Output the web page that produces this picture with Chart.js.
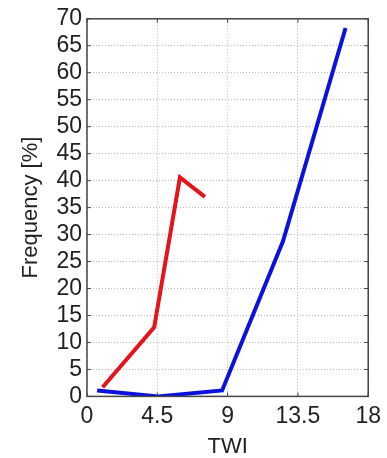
<!DOCTYPE html>
<html>
<head>
<meta charset="utf-8">
<script src="https://cdn.jsdelivr.net/npm/chart.js@4"></script>
<style>
  html, body { margin: 0; padding: 0; background: #fff; }
  #wrap { width: 387px; height: 458px; }
</style>
</head>
<body>
<div id="wrap"><canvas id="chart" width="387" height="458"></canvas></div>
<script>
const redX = [1.0, 4.3, 5.95, 7.55]
const redY = [1.7, 12.8, 40.6, 37.0]
const blueX = [0.65, 4.55, 8.65, 12.55, 16.55]
const blueY = [1.1, 0.0, 1.1, 28.8, 68.3]
const xTicks = [0, 4.5, 9, 13.5, 18]

const toPoints = (xs, ys) => xs.map((x, i) => ({ x, y: ys[i] }))

// frame + inward ticks like the matlab figure
const frame = {
  id: 'frame',
  afterDraw (chart) {
    const { ctx, chartArea: a, scales } = chart
    ctx.save()
    ctx.strokeStyle = '#444'
    ctx.lineWidth = 1.5
    ctx.strokeRect(a.left, a.top, a.right - a.left, a.bottom - a.top)
    ctx.lineWidth = 1
    xTicks.forEach(v => {
      const px = scales.x.getPixelForValue(v)
      ctx.beginPath()
      ctx.moveTo(px, a.bottom); ctx.lineTo(px, a.bottom - 4)
      ctx.moveTo(px, a.top); ctx.lineTo(px, a.top + 4)
      ctx.stroke()
    })
    scales.y.ticks.forEach(t => {
      const py = scales.y.getPixelForValue(t.value)
      ctx.beginPath()
      ctx.moveTo(a.left, py); ctx.lineTo(a.left + 4, py)
      ctx.moveTo(a.right, py); ctx.lineTo(a.right - 4, py)
      ctx.stroke()
    })
    ctx.restore()
  }
}

new Chart(document.getElementById('chart'), {
  type: 'line',
  data: {
    datasets: [
      {
        data: toPoints(redX, redY),
        borderColor: '#e5141b',
        borderWidth: 4,
        pointRadius: 0,
        tension: 0
      },
      {
        data: toPoints(blueX, blueY),
        borderColor: '#0a12dc',
        borderWidth: 4,
        pointRadius: 0,
        tension: 0
      }
    ]
  },
  plugins: [frame],
  options: {
    responsive: false,
    animation: false,
    layout: { padding: { top: 9, right: 18, left: 18, bottom: 0 } },
    plugins: { legend: { display: false }, tooltip: { enabled: false } },
    scales: {
      x: {
        type: 'linear',
        min: 0,
        max: 18,
        afterBuildTicks: axis => { axis.ticks = xTicks.map(v => ({ value: v })) },
        ticks: {
          color: '#222',
          font: { family: 'Liberation Sans', size: 23 },
          maxRotation: 0,
          autoSkip: false,
          padding: 6
        },
        grid: { color: '#bbb', tickLength: 0 },
        border: { display: false, dash: [1, 2] },
        title: {
          display: true,
          text: 'TWI',
          color: '#222',
          font: { family: 'Liberation Sans', size: 22, lineHeight: 1.0 },
          padding: { top: 0, bottom: 0 }
        }
      },
      y: {
        min: 0,
        max: 70,
        ticks: {
          stepSize: 5,
          autoSkip: false,
          color: '#222',
          font: { family: 'Liberation Sans', size: 23 },
          padding: 5
        },
        grid: { color: '#bbb', tickLength: 0 },
        border: { display: false, dash: [1, 2] },
        title: {
          display: true,
          text: 'Frequency [%]',
          color: '#222',
          font: { family: 'Liberation Sans', size: 22 },
          padding: { top: 0, bottom: 7 }
        }
      }
    }
  }
})
</script>
</body>
</html>
